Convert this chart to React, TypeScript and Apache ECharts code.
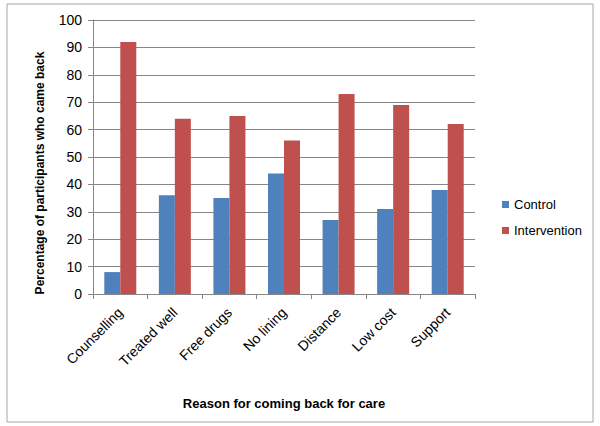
import React, { useEffect, useRef } from "react";
import * as echarts from "echarts";

const categories = ["Counselling", "Treated well", "Free drugs", "No lining", "Distance", "Low cost", "Support"];
const controlValues = [8, 36, 35, 44, 27, 31, 38];
const interventionValues = [92, 64, 65, 56, 73, 69, 62];
const seriesNames = ["Control", "Intervention"];
const yTitle = "Percentage of participants who came back";
const xTitle = "Reason for coming back for care";

const FONT = "'Liberation Sans', 'DejaVu Sans', sans-serif";

export default function App() {
  const ref = useRef<HTMLDivElement>(null);
  useEffect(() => {
    const chart = echarts.init(ref.current!, null, { renderer: "svg" });
    chart.setOption({
      animation: false,
      backgroundColor: "#ffffff",
      textStyle: { fontFamily: FONT },
      graphic: [
        {
          type: "rect",
          shape: { x: 7, y: 4, width: 586, height: 418 },
          style: { fill: "none", stroke: "#a6a6a6", lineWidth: 1 },
          silent: true,
        },
        {
          type: "text",
          x: 40,
          y: 173,
          rotation: Math.PI / 2,
          style: {
            text: yTitle,
            fontSize: 12,
            fontWeight: "bold",
            fill: "#000",
            fontFamily: FONT,
            align: "center",
            verticalAlign: "middle",
          },
          silent: true,
        },
      ],
      grid: { left: 93, top: 20, width: 382, height: 274, containLabel: false },
      legend: {
        orient: "vertical",
        left: 497,
        top: 193,
        itemWidth: 7,
        itemHeight: 7,
        itemGap: 13,
        icon: "rect",
        textStyle: { fontSize: 13, color: "#000", fontFamily: FONT },
        data: seriesNames,
      },
      xAxis: {
        type: "category",
        data: categories,
        name: xTitle,
        nameLocation: "middle",
        nameGap: 103,
        nameTextStyle: { fontSize: 13, fontWeight: "bold", color: "#000", fontFamily: FONT },
        axisLine: { lineStyle: { color: "#868686" } },
        axisTick: { show: true, alignWithLabel: false, length: 5, lineStyle: { color: "#868686" } },
        axisLabel: { rotate: 45, fontSize: 14, color: "#000", margin: 16, interval: 0, fontFamily: FONT },
      },
      yAxis: {
        type: "value",
        min: 0,
        max: 100,
        interval: 10,
        axisLine: { show: true, lineStyle: { color: "#868686" } },
        axisTick: { show: true, inside: false, length: 5, lineStyle: { color: "#868686" } },
        axisLabel: { fontSize: 14, color: "#000", margin: 11, fontFamily: FONT },
        splitLine: { show: true, lineStyle: { color: "#868686", width: 1 } },
      },
      series: [
        {
          name: seriesNames[0],
          type: "bar",
          data: controlValues,
          barWidth: 16,
          barGap: "0%",
          itemStyle: { color: "#4f81bd" },
        },
        {
          name: seriesNames[1],
          type: "bar",
          data: interventionValues,
          barWidth: 16,
          barGap: "0%",
          itemStyle: { color: "#c0504d" },
        },
      ],
    });
    return () => chart.dispose();
  }, []);
  return <div ref={ref} style={{ position: "fixed", left: 0, top: 0, width: 600, height: 426 }} />;
}
